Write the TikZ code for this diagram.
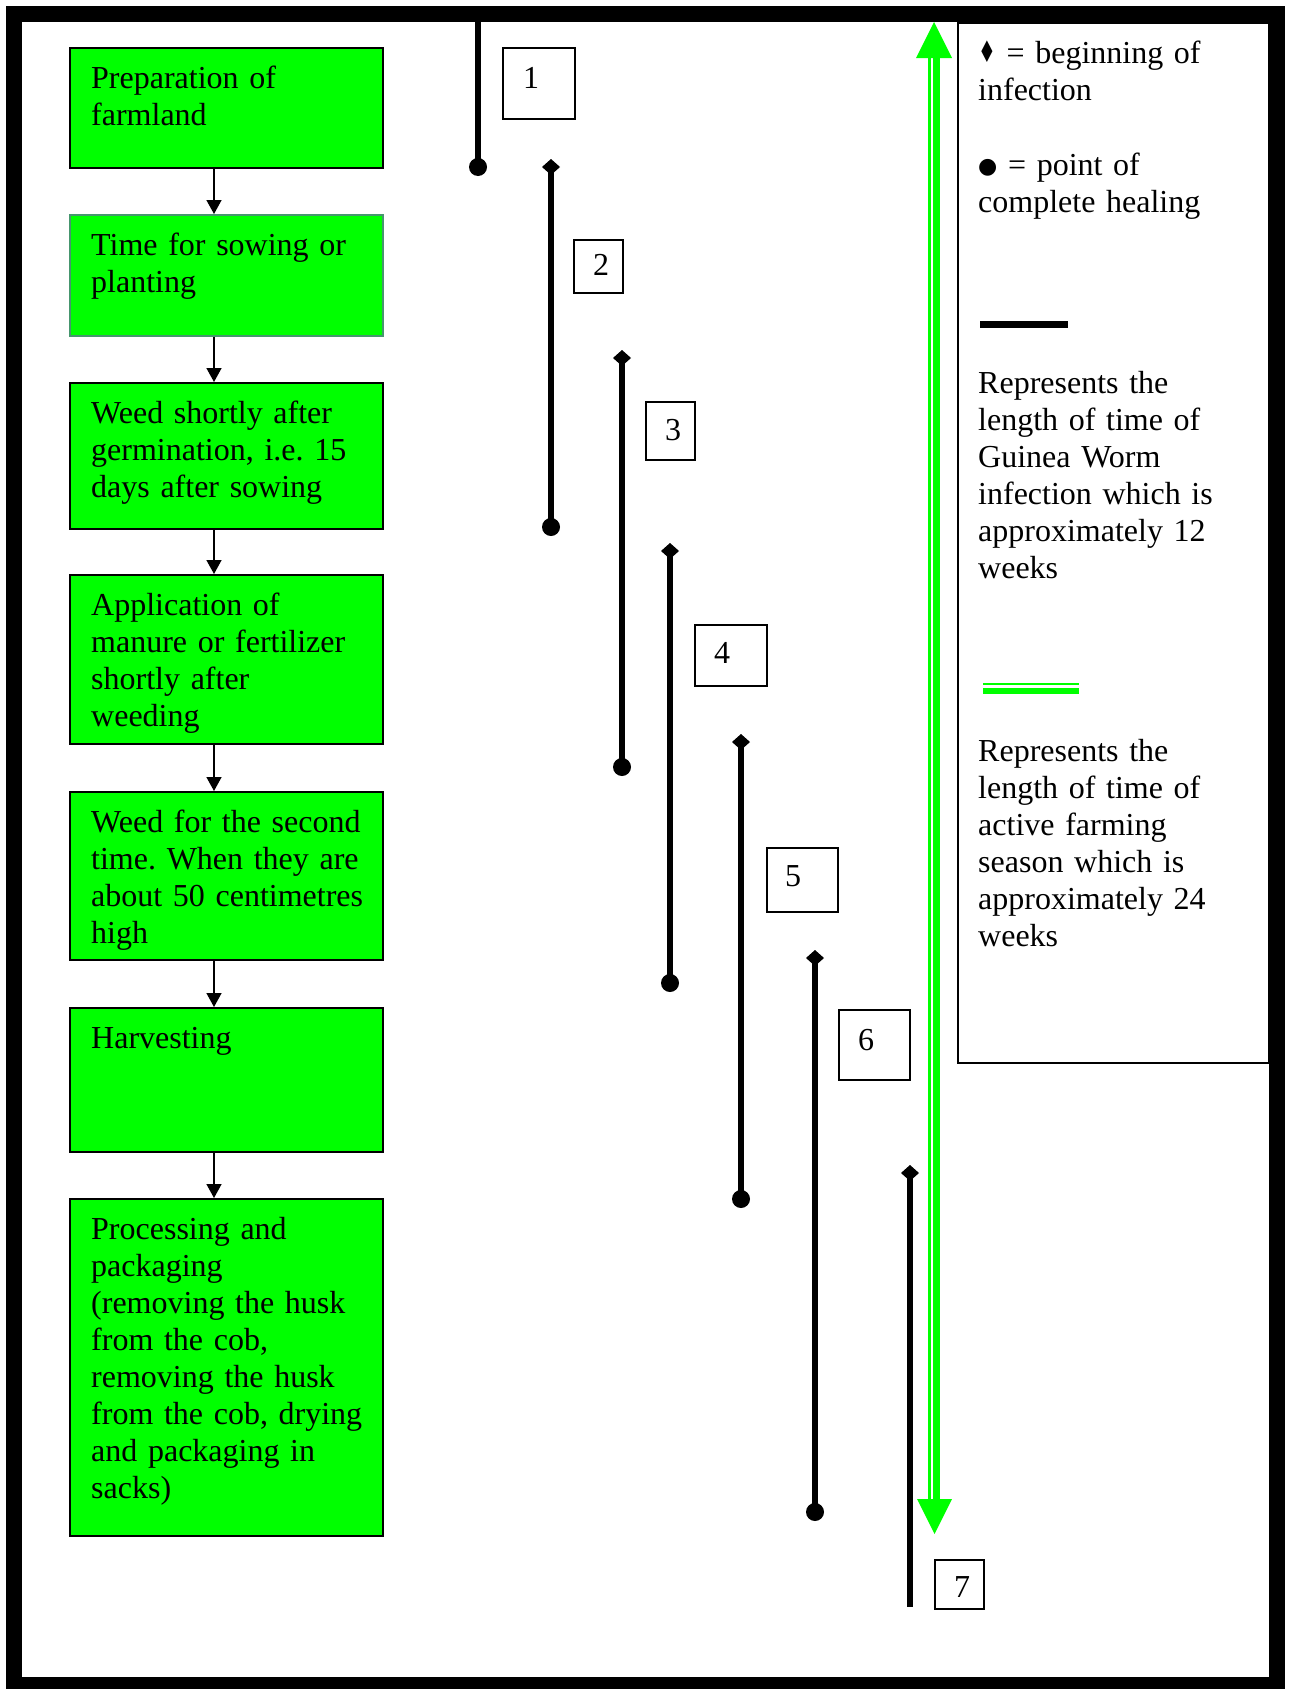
\documentclass[tikz,border=0pt]{standalone}
\usepackage{fontspec}
\usepackage{graphicx}
\setmainfont{Liberation Serif}
\newfontfamily\symf{DejaVu Sans}
\usetikzlibrary{arrows.meta,calc}
\definecolor{gfill}{RGB}{0,255,0}
\definecolor{bedge}{RGB}{70,150,110}
\frenchspacing
\tikzset{
  gbox/.style={draw=black, line width=1.5pt, fill=gfill, anchor=north west, inner sep=0pt, minimum width=313pt},
  btext/.style={anchor=north west, inner sep=0pt, text width=295pt, align=left, font=\fontsize{32}{37}\selectfont},
  ltext/.style={anchor=north west, inner sep=0pt, text width=285pt, align=left, font=\fontsize{32}{37}\selectfont},
  nbox/.style={draw=black, line width=1.6pt, anchor=north west, inner sep=0pt},
  ntext/.style={anchor=base, inner sep=0pt, font=\fontsize{32}{37}\selectfont},
  inf/.style={line width=5.5pt},
  flow/.style={line width=1.5pt, -{Triangle[length=14pt,width=15pt]}},
  dmd/.pic={\fill (0,-8) -- (9,0) -- (0,8) -- (-9,0) -- cycle;},
}
\begin{document}
\begin{tikzpicture}[x=1pt,y=-1pt]
\useasboundingbox (0,0) rectangle (1293,1689);
\fill[white] (0,0) rectangle (1293,1689);
% outer frame
\draw[line width=16pt] (14,14) rectangle (1277,1685);

% legend box
\node[draw=black, line width=1.8pt, anchor=north west, inner sep=0pt, minimum width=311pt, minimum height=1040pt] (leg) at (957,22) {};

% green boxes
\node[gbox, minimum height=120pt] (b1) at (69,47) {};
\node[gbox, draw=bedge, minimum height=121pt] (b2) at (69,214) {};
\node[gbox, minimum height=146pt] (b3) at (69,382) {};
\node[gbox, minimum height=169pt] (b4) at (69,574) {};
\node[gbox, minimum height=168pt] (b5) at (69,791) {};
\node[gbox, minimum height=144pt] (b6) at (69,1007) {};
\node[gbox, minimum height=337pt] (b7) at (69,1198) {};

\node[btext] at ($(b1.north west)+(22,15)$) {\strut Preparation of\\farmland};
\node[btext] at ($(b2.north west)+(22,15)$) {\strut Time for sowing or\\planting};
\node[btext] at ($(b3.north west)+(22,15)$) {\strut Weed shortly after\\germination, i.e. 15\\days after sowing};
\node[btext] at ($(b4.north west)+(22,15)$) {\strut Application of\\manure or fertilizer\\shortly after\\weeding};
\node[btext] at ($(b5.north west)+(22,15)$) {\strut Weed for the second\\time. When they are\\about 50 centimetres\\high};
\node[btext] at ($(b6.north west)+(22,15)$) {\strut Harvesting};
\node[btext] at ($(b7.north west)+(22,15)$) {\strut Processing and\\packaging\\(removing the husk\\from the cob,\\removing the husk\\from the cob, drying\\and packaging in\\sacks)};

\coordinate (ax) at (214,0);
\draw[flow] (b1.south -| ax) -- (b2.north -| ax);
\draw[flow] (b2.south -| ax) -- (b3.north -| ax);
\draw[flow] (b3.south -| ax) -- (b4.north -| ax);
\draw[flow] (b4.south -| ax) -- (b5.north -| ax);
\draw[flow] (b5.south -| ax) -- (b6.north -| ax);
\draw[flow] (b6.south -| ax) -- (b7.north -| ax);

% number boxes
\node[nbox, minimum width=72pt, minimum height=71pt] (n1) at (502,47) {};
\node[nbox, minimum width=49pt, minimum height=53pt] (n2) at (573,239) {};
\node[nbox, minimum width=49pt, minimum height=58pt] (n3) at (645,401) {};
\node[nbox, minimum width=72pt, minimum height=61pt] (n4) at (694,624) {};
\node[nbox, minimum width=71pt, minimum height=64pt] (n5) at (766,847) {};
\node[nbox, minimum width=71pt, minimum height=70pt] (n6) at (838,1009) {};
\node[nbox, minimum width=49pt, minimum height=49pt] (n7) at (934,1559) {};
\node[ntext] at (531,88) {1};
\node[ntext] at (601,275) {2};
\node[ntext] at (673,440) {3};
\node[ntext] at (722,663) {4};
\node[ntext] at (793,886) {5};
\node[ntext] at (866,1050) {6};
\node[ntext] at (962,1597) {7};

% infection periods
\coordinate (s1) at (478,22);   \coordinate (e1) at (478,167);
\coordinate (s2) at (551,167);  \coordinate (e2) at (551,527);
\coordinate (s3) at (622,358);  \coordinate (e3) at (622,767);
\coordinate (s4) at (670,551);  \coordinate (e4) at (670,983);
\coordinate (s5) at (741,742);  \coordinate (e5) at (741,1199);
\coordinate (s6) at (815,958);  \coordinate (e6) at (815,1512);
\coordinate (s7) at (910,1173); \coordinate (e7) at (910,1607);
\foreach \i in {1,...,7} {\draw[inf] (s\i) -- (e\i);}
\foreach \i in {1,...,6} {\fill (e\i) circle[radius=9pt];}
\foreach \i in {2,...,7} {\pic at (s\i) {dmd};}

% farming season double arrow
\coordinate (gtop) at (934,22);
\coordinate (gbot) at (934.5,1534);
\draw[gfill, line width=2.2pt] (929.5,58) -- (929.5,1499);
\draw[gfill, line width=6.8pt] (936.7,58) -- (936.7,1499);
\fill[gfill] (gtop) -- ++(18,36) -- ++(-36,0) -- cycle;
\fill[gfill] (gbot) -- ++(17.5,-35) -- ++(-35,0) -- cycle;

% legend content
\node[ltext] at (978,37) {\strut\raisebox{1pt}{\scalebox{0.9}[1.35]{\symf\fontsize{22}{22}\selectfont ♦}} = beginning of\\infection};
\node[ltext] at (978,149) {\strut\raisebox{2pt}{\symf\fontsize{22}{22}\selectfont ●} = point of\\complete healing};
\coordinate (k1) at (980,324.5); \coordinate (k2) at (1068,324.5);
\draw[line width=7pt] (k1) -- (k2);
\node[ltext] at (978,367) {\strut Represents the\\length of time of\\Guinea Worm\\infection which is\\approximately 12\\weeks};
\coordinate (g1) at (983,684.3); \coordinate (g2) at (1079,684.3);
\coordinate (g3) at (983,690.8); \coordinate (g4) at (1079,690.8);
\draw[gfill, line width=2pt] (g1) -- (g2);
\draw[gfill, line width=6.3pt] (g3) -- (g4);
\node[ltext] at (978,735) {\strut Represents the\\length of time of\\active farming\\season which is\\approximately 24\\weeks};
\end{tikzpicture}
\end{document}
